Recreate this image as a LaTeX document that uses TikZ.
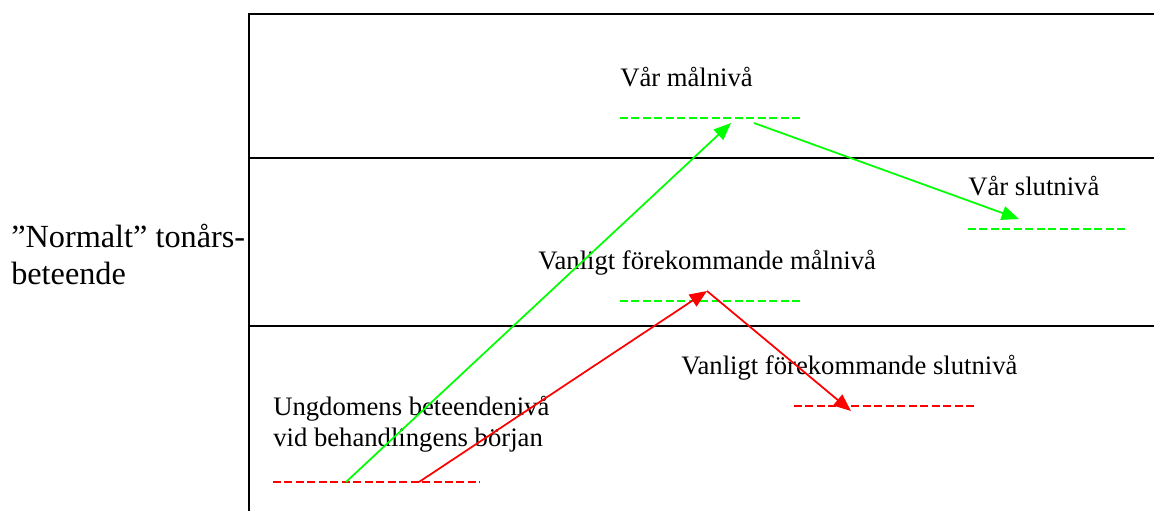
\documentclass[tikz,border=0pt]{standalone}
\usepackage{fontspec}
\setmainfont{Liberation Serif}
\usetikzlibrary{arrows.meta}
\definecolor{lvlgreen}{RGB}{0,255,0}
\definecolor{lvlred}{RGB}{255,0,0}
\newcommand{\twolines}[2]{\begin{tabular}[t]{@{}l@{}}#1\\#2\end{tabular}}
\tikzset{
  frame/.style={line width=1.4pt, black},
  level/.style={line width=1.6pt, dash pattern=on 6pt off 2.6pt},
  move/.style={line width=1.3pt, -{Triangle[length=13pt,width=10.5pt]}},
  lbl/.style={inner sep=0pt, anchor=base west, font=\rmfamily\fontsize{20}{23.25}\selectfont},
  side/.style={inner sep=0pt, anchor=base west, font=\rmfamily\fontsize{24.2}{28}\selectfont}
}
\begin{document}
\begin{tikzpicture}[x=0.75pt, y=-0.75pt]
\useasboundingbox (0,0) rectangle (1154,511);

% frame with band separators
\draw[frame] (249,511) -- (249,14) -- (1154,14);
\draw[frame] (249,158) -- (1154,158);
\draw[frame] (249,326) -- (1154,326);

% labels
\node[side] (normal) at (11,247) {\twolines{”Normalt” tonårs-}{beteende}};
\node[lbl] (goal) at (620,86) {Vår målnivå};
\node[lbl] (final) at (968,195) {Vår slutnivå};
\node[lbl] (usualgoal) at (538,269) {Vanligt förekommande målnivå};
\node[lbl] (usualfinal) at (681,374) {Vanligt förekommande slutnivå};
\node[lbl] (start) at (273,415) {\twolines{Ungdomens beteendenivå}{vid behandlingens början}};

% level markers
\coordinate (g1a) at (620,118); \coordinate (g1b) at (803,118);
\coordinate (g2a) at (968,229); \coordinate (g2b) at (1127,229);
\coordinate (g3a) at (620,301); \coordinate (g3b) at (803,301);
\coordinate (r1a) at (794,406); \coordinate (r1b) at (977,406);
\coordinate (r0a) at (273,482); \coordinate (r0b) at (480,482);
\draw[level, lvlgreen] (g1a) -- (g1b);
\draw[level, lvlgreen] (g2a) -- (g2b);
\draw[level, lvlgreen] (g3a) -- (g3b);
\draw[level, lvlred] (r1a) -- (r1b);
\draw[level, lvlred] (r0a) -- (r0b);

% trajectories
\coordinate (gs) at (346,482);
\coordinate (gt) at (731,123);
\coordinate (gu) at (754,123);
\coordinate (ge) at (1019,219);
\coordinate (rs) at (419,482);
\coordinate (rt) at (707,291);
\coordinate (re) at (851,411);
\draw[move, lvlgreen] (gs) -- (gt);
\draw[move, lvlgreen] (gu) -- (ge);
\draw[move, lvlred] (rs) -- (rt);
\draw[move, lvlred] (rt) -- (re);
\end{tikzpicture}
\end{document}
